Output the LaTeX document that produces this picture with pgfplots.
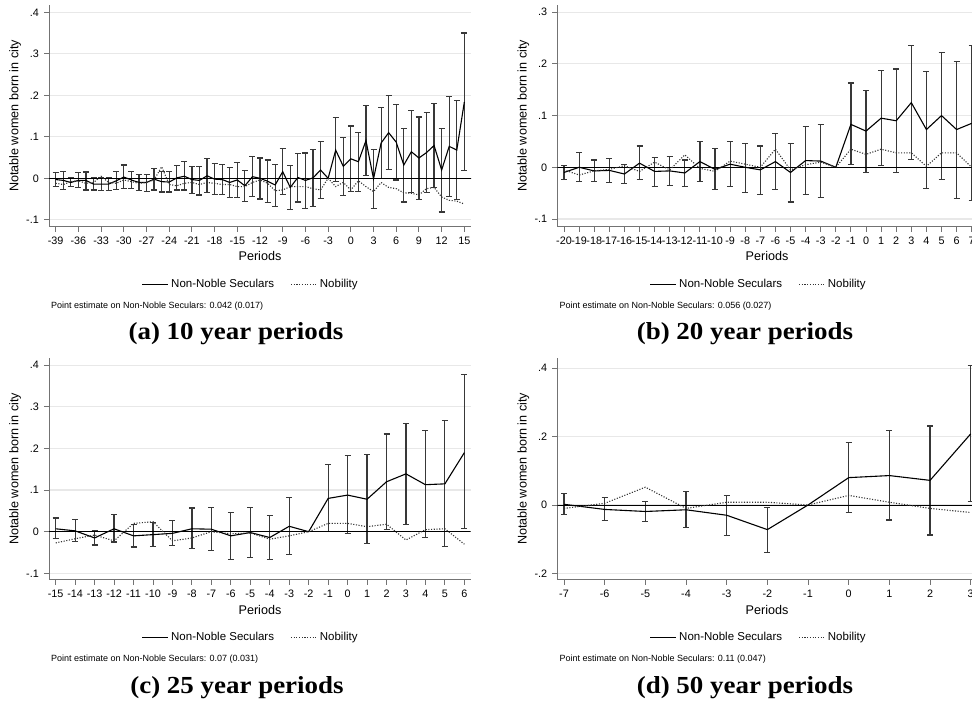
\documentclass[border=0pt]{standalone}
\usepackage{fontspec}
\setmainfont{Liberation Sans}
\newfontfamily\capfont[FakeStretch=1.1]{Liberation Serif}
\usepackage{pgfplots}
\usepackage{pgfplotstable}
\pgfplotsset{compat=1.18}

% ---------- panel (a): 10 year periods ----------
\pgfplotstableread{
p ns nob
-39 -0.003 -0.012
-38 -0.005 -0.015
-37 -0.010 -0.008
-36 -0.005 -0.006
-35 -0.005 -0.012
-34 -0.014 -0.010
-33 -0.014 0.005
-32 -0.014 -0.010
-31 -0.006 -0.012
-30 0.003 -0.004
-29 -0.004 -0.008
-28 -0.010 -0.012
-27 -0.010 -0.010
-26 -0.002 -0.004
-25 -0.008 0.028
-24 -0.009 -0.015
-23 0.001 -0.018
-22 0.005 -0.012
-21 -0.003 -0.010
-20 -0.005 -0.015
-19 0.006 -0.010
-18 -0.002 -0.012
-17 -0.003 -0.015
-16 -0.010 -0.015
-15 -0.004 -0.020
-14 -0.018 -0.020
-13 0.004 -0.010
-12 0.000 -0.004
-11 -0.007 -0.012
-10 -0.016 -0.030
-9 0.016 -0.028
-8 -0.022 -0.020
-7 0.002 -0.020
-6 -0.005 -0.020
-5 0.001 -0.025
-4 0.020 -0.028
-3 0.000 0.000
-2 0.068 -0.020
-1 0.029 -0.010
0 0.047 -0.028
1 0.040 -0.006
2 0.091 -0.020
3 -0.001 -0.032
4 0.085 -0.010
5 0.110 -0.022
6 0.087 -0.025
7 0.032 -0.035
8 0.064 -0.036
9 0.049 -0.040
10 0.062 -0.025
11 0.079 -0.022
12 0.020 -0.045
13 0.077 -0.053
14 0.068 -0.055
15 0.184 -0.062
}\lineA
\pgfplotstableread{
p lo hi
-39 -0.020 0.014
-38 -0.026 0.016
-37 -0.020 0.002
-36 -0.022 0.014
-35 -0.028 0.015
-34 -0.028 0.002
-33 -0.030 0.002
-32 -0.030 0.002
-31 -0.027 0.017
-30 -0.024 0.032
-29 -0.025 0.017
-28 -0.030 0.009
-27 -0.031 0.010
-26 -0.028 0.024
-25 -0.033 0.016
-24 -0.033 0.016
-23 -0.028 0.031
-22 -0.028 0.041
-21 -0.036 0.029
-20 -0.040 0.028
-19 -0.035 0.048
-18 -0.039 0.035
-17 -0.039 0.033
-16 -0.047 0.026
-15 -0.046 0.038
-14 -0.056 0.018
-13 -0.044 0.053
-12 -0.050 0.049
-11 -0.059 0.044
-10 -0.067 0.034
-9 -0.039 0.072
-8 -0.075 0.031
-7 -0.057 0.060
-6 -0.072 0.061
-5 -0.067 0.070
-4 -0.049 0.089
-2 -0.007 0.146
-1 -0.041 0.099
0 -0.031 0.126
1 -0.031 0.111
2 0.007 0.175
3 -0.072 0.070
4 0.000 0.170
5 0.021 0.199
6 -0.004 0.178
7 -0.057 0.121
8 -0.035 0.163
9 -0.051 0.148
10 -0.035 0.158
11 -0.022 0.180
12 -0.081 0.120
13 -0.044 0.198
14 -0.052 0.188
15 0.018 0.350
}\barsA

% ---------- panel (b): 20 year periods ----------
\pgfplotstableread{
p ns nob
-20 -0.010 -0.005
-19 0.000 -0.015
-18 -0.007 -0.007
-17 -0.006 -0.004
-16 -0.013 0.003
-15 0.008 -0.008
-14 -0.008 0.010
-13 -0.007 -0.005
-12 -0.011 0.024
-11 0.011 -0.002
-10 -0.004 -0.008
-9 0.006 0.012
-8 0.000 0.006
-7 -0.005 0.000
-6 0.011 0.035
-5 -0.010 -0.005
-4 0.013 0.005
-3 0.012 0.010
-2 0.000 0.000
-1 0.083 0.035
0 0.070 0.025
1 0.095 0.035
2 0.090 0.028
3 0.125 0.028
4 0.073 0.002
5 0.100 0.028
6 0.073 0.028
7 0.085 0.000
}\lineB
\pgfplotstableread{
p lo hi
-20 -0.023 0.003
-19 -0.028 0.028
-18 -0.028 0.014
-17 -0.030 0.017
-16 -0.032 0.005
-15 -0.024 0.041
-14 -0.037 0.019
-13 -0.035 0.021
-12 -0.037 0.014
-11 -0.028 0.050
-10 -0.043 0.036
-9 -0.037 0.050
-8 -0.048 0.046
-7 -0.052 0.041
-6 -0.043 0.065
-5 -0.067 0.046
-4 -0.053 0.079
-3 -0.059 0.082
-1 0.005 0.163
0 -0.010 0.149
1 0.004 0.187
2 -0.010 0.190
3 0.015 0.236
4 -0.041 0.186
5 -0.023 0.222
6 -0.061 0.205
7 -0.064 0.236
}\barsB

% ---------- panel (c): 25 year periods ----------
\pgfplotstableread{
p ns nob
-15 0.007 -0.027
-14 0.002 -0.017
-13 -0.015 -0.008
-12 0.007 -0.022
-11 -0.010 0.020
-10 -0.007 0.024
-9 -0.004 -0.022
-8 0.007 -0.015
-7 0.006 0.000
-6 -0.010 -0.005
-5 -0.002 -0.003
-4 -0.014 -0.018
-3 0.013 -0.010
-2 0.000 0.000
-1 0.080 0.020
0 0.088 0.020
1 0.078 0.012
2 0.120 0.018
3 0.139 -0.020
4 0.113 0.005
5 0.115 0.007
6 0.190 -0.030
}\lineC
\pgfplotstableread{
p lo hi
-15 -0.017 0.033
-14 -0.023 0.029
-13 -0.032 0.002
-12 -0.025 0.041
-11 -0.037 0.018
-10 -0.035 0.023
-9 -0.034 0.027
-8 -0.041 0.057
-7 -0.045 0.059
-6 -0.066 0.047
-5 -0.062 0.059
-4 -0.067 0.039
-3 -0.055 0.082
-1 0.000 0.161
0 -0.004 0.183
1 -0.029 0.186
2 0.006 0.235
3 0.018 0.260
4 -0.014 0.243
5 -0.036 0.267
6 0.007 0.377
}\barsC

% ---------- panel (d): 50 year periods ----------
\pgfplotstableread{
p ns nob
-7 0.002 -0.010
-6 -0.013 0.005
-5 -0.019 0.052
-4 -0.014 -0.010
-3 -0.030 0.008
-2 -0.072 0.008
-1 0.000 0.000
0 0.080 0.028
1 0.086 0.008
2 0.072 -0.010
3 0.208 -0.022
}\lineD
\pgfplotstableread{
p lo hi
-7 -0.027 0.033
-6 -0.046 0.021
-5 -0.049 0.011
-4 -0.066 0.039
-3 -0.089 0.028
-2 -0.138 -0.008
0 -0.021 0.183
1 -0.044 0.217
2 -0.088 0.231
3 0.011 0.409
}\barsD

\pgfplotsset{
  panel/.style={
    scale only axis, anchor=south west, height=221.7pt,
    axis x line*=bottom, axis y line*=left,
    axis line style={draw=black!55, line width=1pt},
    major tick style={draw=black!55, line width=0.9pt},
    tick align=outside, major tick length=5pt,
    xticklabel shift=4pt, yticklabel shift=4pt,
    ymajorgrids, grid style={draw=black!9, line width=1.2pt},
    ticklabel style={font=\fontsize{10.8}{12}\selectfont},
    /pgf/number format/assume math mode=true,
    xticklabel style={inner sep=1pt},
    yticklabel style={inner sep=1pt},
    legend style={draw=none, fill=none, legend columns=2,
      font=\fontsize{11.5}{13}\selectfont, anchor=center,
      nodes={inner sep=2.5pt},
      /tikz/every even column/.append style={column sep=14pt}},
    legend image code/.code={\draw[##1, line width=0.8pt] (0pt,0pt) -- (26pt,0pt);},
  },
  bars/.style={forget plot, draw=none,
    error bars/.cd, y dir=both, y explicit,
    error bar style={draw=black!78, line width=1.2pt},
    error mark options={rotate=90, draw=black!78, line width=1.2pt, mark size=3pt}},
  nsline/.style={black, line width=1.1pt},
  nobline/.style={black!80, line width=1.1pt, dash pattern=on 1.1pt off 1.6pt},
  zeroline/.style={forget plot, black, line width=0.9pt},
}

\begin{document}
\begin{tikzpicture}[x=1pt,y=1pt]
\path[use as bounding box] (0,0) rectangle (972,704);

% ===== (a) =====
\begin{axis}[panel, at={(49pt,477.3pt)}, width=422pt,
  xmin=-39.885, xmax=15.88, ymin=-0.1166, ymax=0.4177,
  xtick={-39,-36,...,15},
  ytick={-0.1,0,0.1,0.2,0.3,0.4}, yticklabels={-.1,0,.1,.2,.3,.4},
  legend style={at={(0.4787,-0.2585)}}]
\addplot[bars] table[x=p, y=lo, y error plus expr={\thisrow{hi}-\thisrow{lo}}, y error minus expr={0}] {\barsA};
\addplot[zeroline] coordinates {(-41,0) (17,0)};
\addplot[nsline] table[x=p, y=ns] {\lineA};
\addlegendentry{Non-Noble Seculars}
\addplot[nobline] table[x=p, y=nob] {\lineA};
\addlegendentry{Nobility}
\end{axis}

% ===== (b) =====
\begin{axis}[panel, at={(557.3pt,477.3pt)}, width=414.7pt,
  xmin=-20.444, xmax=7.02, ymin=-0.1149, ymax=0.3139,
  xtick={-20,-19,...,7},
  ytick={-0.1,0,0.1,0.2,0.3}, yticklabels={-.1,0,.1,.2,.3},
  legend style={at={(0.4864,-0.2585)}}]
\addplot[bars] table[x=p, y=lo, y error plus expr={\thisrow{hi}-\thisrow{lo}}, y error minus expr={0}] {\barsB};
\addplot[zeroline] coordinates {(-21,0) (8,0)};
\addplot[nsline] table[x=p, y=ns] {\lineB};
\addlegendentry{Non-Noble Seculars}
\addplot[nobline] table[x=p, y=nob] {\lineB};
\addlegendentry{Nobility}
\end{axis}

% ===== (c) =====
\begin{axis}[panel, at={(49pt,124pt)}, width=421.7pt,
  xmin=-15.344, xmax=6.326, ymin=-0.1161, ymax=0.4168,
  xtick={-15,-14,...,6},
  ytick={-0.1,0,0.1,0.2,0.3,0.4}, yticklabels={-.1,0,.1,.2,.3,.4},
  legend style={at={(0.479,-0.2585)}}]
\addplot[bars] table[x=p, y=lo, y error plus expr={\thisrow{hi}-\thisrow{lo}}, y error minus expr={0}] {\barsC};
\addplot[zeroline] coordinates {(-16,0) (7,0)};
\addplot[nsline] table[x=p, y=ns] {\lineC};
\addlegendentry{Non-Noble Seculars}
\addplot[nobline] table[x=p, y=nob] {\lineC};
\addlegendentry{Nobility}
\end{axis}

% ===== (d) =====
\begin{axis}[panel, at={(557.3pt,124pt)}, width=414.7pt,
  xmin=-7.165, xmax=3.032, ymin=-0.2193, ymax=0.4289,
  xtick={-7,-6,...,3},
  ytick={-0.2,0,0.2,0.4}, yticklabels={-.2,0,.2,.4},
  legend style={at={(0.4864,-0.2585)}}]
\addplot[bars] table[x=p, y=lo, y error plus expr={\thisrow{hi}-\thisrow{lo}}, y error minus expr={0}] {\barsD};
\addplot[zeroline] coordinates {(-8,0) (4,0)};
\addplot[nsline] table[x=p, y=ns] {\lineD};
\addlegendentry{Non-Noble Seculars}
\addplot[nobline] table[x=p, y=nob] {\lineD};
\addlegendentry{Nobility}
\end{axis}

% ----- axis titles, notes, captions -----
\begin{scope}[every node/.style={inner sep=0pt}]
\foreach \xx/\yy in {15/588, 523.3/588, 15/235, 523.3/235}
  \node[rotate=90, font=\fontsize{12.6}{14}\selectfont] at (\xx,\yy) {Notable women born in city};
\foreach \xx/\yy in {260/447.5, 767/447.5, 260/94, 767/94}
  \node[font=\fontsize{12.6}{14}\selectfont] at (\xx,\yy) {Periods};
\node[anchor=west, font=\fontsize{9}{11}\selectfont] at (51,398.3) {Point estimate on Non-Noble Seculars: 0.042 (0.017)};
\node[anchor=west, font=\fontsize{9}{11}\selectfont] at (559.3,398.3) {Point estimate on Non-Noble Seculars: 0.056 (0.027)};
\node[anchor=west, font=\fontsize{9}{11}\selectfont] at (51,45) {Point estimate on Non-Noble Seculars: 0.07 (0.031)};
\node[anchor=west, font=\fontsize{9}{11}\selectfont] at (559.3,45) {Point estimate on Non-Noble Seculars: 0.11 (0.047)};
\node[anchor=base, font=\capfont\bfseries\fontsize{24.5}{28}\selectfont] at (236,364) {(a) 10 year periods};
\node[anchor=base, font=\capfont\bfseries\fontsize{24.5}{28}\selectfont] at (745,364) {(b) 20 year periods};
\node[anchor=base, font=\capfont\bfseries\fontsize{24.5}{28}\selectfont] at (237,10.7) {(c) 25 year periods};
\node[anchor=base, font=\capfont\bfseries\fontsize{24.5}{28}\selectfont] at (745,10.7) {(d) 50 year periods};
\end{scope}
\end{tikzpicture}
\end{document}
